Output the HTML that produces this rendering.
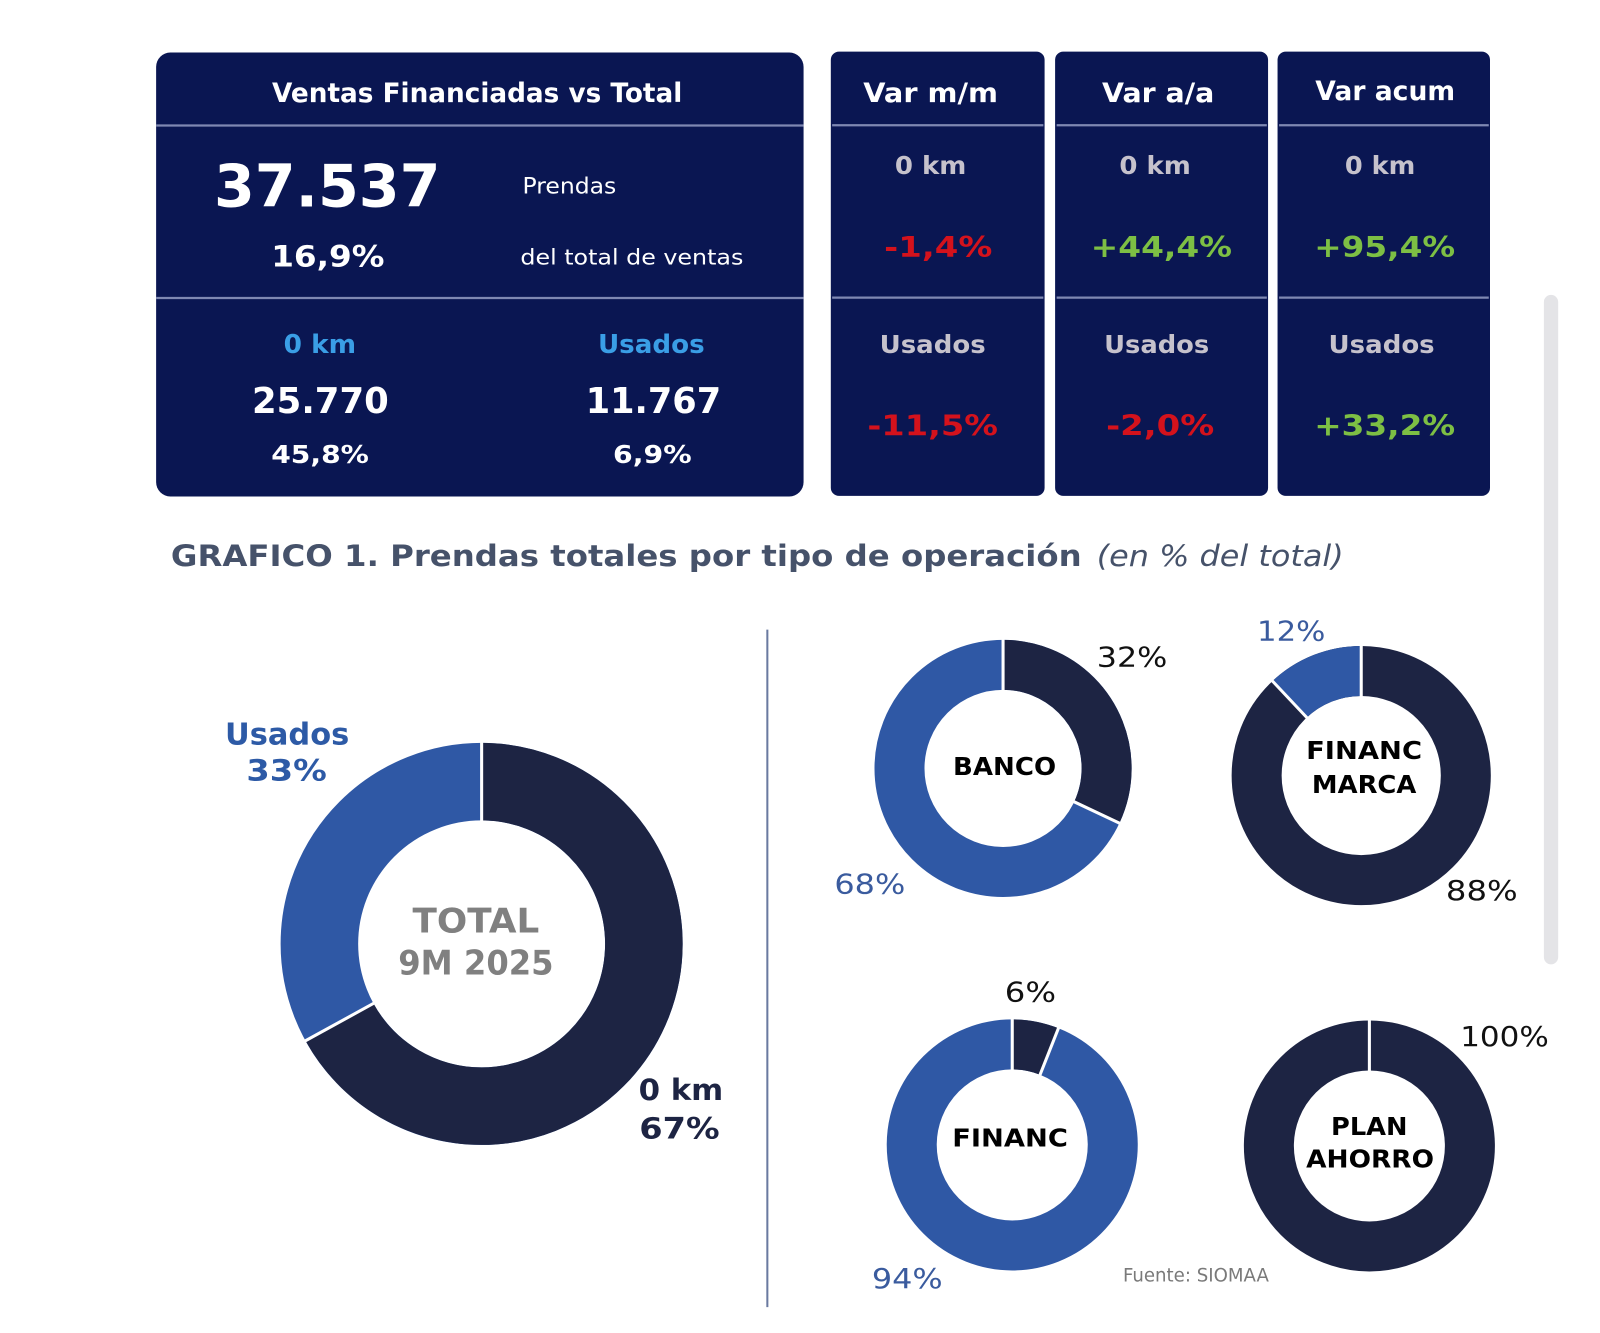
<!DOCTYPE html>
<html><head><meta charset="utf-8"><style>
html,body{margin:0;padding:0;background:#fff;}
svg{display:block;}
text{font-family:"DejaVu Sans","Liberation Sans",sans-serif;}
.b{font-weight:bold;}
</style></head><body>
<svg width="1600" height="1333" viewBox="0 0 1568 1306.3" preserveAspectRatio="none" xmlns="http://www.w3.org/2000/svg">
<rect x="0" y="0" width="1568" height="1306.3" fill="#ffffff"/>

<!-- Card 1 -->
<rect x="153" y="51.5" width="634.5" height="435" rx="14" fill="#0a1652"/>
<line x1="153" y1="123" x2="787.5" y2="123" stroke="#7f88b2" stroke-width="2.2"/>
<line x1="153" y1="292" x2="787.5" y2="292" stroke="#7f88b2" stroke-width="2.2"/>
<text class="b" x="266.6" y="100" font-size="26" fill="#fff" textLength="402" lengthAdjust="spacingAndGlyphs">Ventas Financiadas vs Total</text>
<text class="b" x="209.7" y="202.5" font-size="58" fill="#fff" textLength="222" lengthAdjust="spacingAndGlyphs">37.537</text>
<text x="512" y="189.5" font-size="21.5" fill="#fff" textLength="92" lengthAdjust="spacingAndGlyphs">Prendas</text>
<text class="b" x="265.8" y="261" font-size="29" fill="#fff" textLength="111" lengthAdjust="spacingAndGlyphs">16,9%</text>
<text x="510" y="259" font-size="21" fill="#fff" textLength="218.5" lengthAdjust="spacingAndGlyphs">del total de ventas</text>
<text class="b" x="278" y="346" font-size="25" fill="#3a9ee6" textLength="71" lengthAdjust="spacingAndGlyphs">0 km</text>
<text class="b" x="586" y="346" font-size="25" fill="#3a9ee6" textLength="104.6" lengthAdjust="spacingAndGlyphs">Usados</text>
<text class="b" x="247" y="404.5" font-size="35" fill="#fff" textLength="134" lengthAdjust="spacingAndGlyphs">25.770</text>
<text class="b" x="574" y="404.5" font-size="35" fill="#fff" textLength="132.7" lengthAdjust="spacingAndGlyphs">11.767</text>
<text class="b" x="265.8" y="453.5" font-size="24" fill="#fff" textLength="95.7" lengthAdjust="spacingAndGlyphs">45,8%</text>
<text class="b" x="600.8" y="453.5" font-size="24" fill="#fff" textLength="77" lengthAdjust="spacingAndGlyphs">6,9%</text>

<!-- Card 2 -->
<rect x="814.2" y="50.6" width="209.5" height="435.4" rx="8" fill="#0a1652"/>
<rect x="1034" y="50.6" width="208.7" height="435.4" rx="8" fill="#0a1652"/>
<rect x="1252" y="50.6" width="208.2" height="435.4" rx="8" fill="#0a1652"/>
<g stroke="#7f88b2" stroke-width="2.2">
<line x1="815.5" y1="122.8" x2="1022.5" y2="122.8"/>
<line x1="815.5" y1="291.7" x2="1022.5" y2="291.7"/>
<line x1="1035.5" y1="122.8" x2="1241.5" y2="122.8"/>
<line x1="1035.5" y1="291.7" x2="1241.5" y2="291.7"/>
<line x1="1253.5" y1="122.8" x2="1459" y2="122.8"/>
<line x1="1253.5" y1="291.7" x2="1459" y2="291.7"/>
</g>
<text class="b" x="846" y="100" font-size="26" fill="#fff" textLength="132" lengthAdjust="spacingAndGlyphs">Var m/m</text>
<text class="b" x="1080" y="100" font-size="26" fill="#fff" textLength="110" lengthAdjust="spacingAndGlyphs">Var a/a</text>
<text class="b" x="1289" y="98" font-size="26" fill="#fff" textLength="137" lengthAdjust="spacingAndGlyphs">Var acum</text>

<text class="b" x="877" y="170.5" font-size="24" fill="#c6c2cc" textLength="70" lengthAdjust="spacingAndGlyphs">0 km</text>
<text class="b" x="1097" y="170.5" font-size="24" fill="#c6c2cc" textLength="70" lengthAdjust="spacingAndGlyphs">0 km</text>
<text class="b" x="1318" y="170.5" font-size="24" fill="#c6c2cc" textLength="69" lengthAdjust="spacingAndGlyphs">0 km</text>

<text class="b" x="866.5" y="252" font-size="28" fill="#d4121c" textLength="106" lengthAdjust="spacingAndGlyphs">-1,4%</text>
<text class="b" x="1069" y="252" font-size="28" fill="#7dbf44" textLength="138.4" lengthAdjust="spacingAndGlyphs">+44,4%</text>
<text class="b" x="1288" y="252" font-size="28" fill="#7dbf44" textLength="138" lengthAdjust="spacingAndGlyphs">+95,4%</text>

<text class="b" x="862" y="346" font-size="24.5" fill="#c6c2cc" textLength="104" lengthAdjust="spacingAndGlyphs">Usados</text>
<text class="b" x="1082" y="346" font-size="24.5" fill="#c6c2cc" textLength="103" lengthAdjust="spacingAndGlyphs">Usados</text>
<text class="b" x="1302" y="346" font-size="24.5" fill="#c6c2cc" textLength="104" lengthAdjust="spacingAndGlyphs">Usados</text>

<text class="b" x="850" y="427" font-size="28" fill="#d4121c" textLength="128" lengthAdjust="spacingAndGlyphs">-11,5%</text>
<text class="b" x="1084" y="427" font-size="28" fill="#d4121c" textLength="106" lengthAdjust="spacingAndGlyphs">-2,0%</text>
<text class="b" x="1288" y="427" font-size="28" fill="#7dbf44" textLength="138" lengthAdjust="spacingAndGlyphs">+33,2%</text>

<!-- Title -->
<text class="b" x="167.5" y="554.5" font-size="29" fill="#46526a" textLength="892.5" lengthAdjust="spacingAndGlyphs">GRAFICO 1. Prendas totales por tipo de operación</text>
<text x="1074.8" y="554.5" font-size="29" font-style="italic" fill="#46526a" textLength="242" lengthAdjust="spacingAndGlyphs">(en % del total)</text>

<!-- Divider -->
<line x1="752" y1="617" x2="752" y2="1281" stroke="#6a7aa0" stroke-width="2"/>

<!-- Scrollbar -->
<rect x="1513" y="289" width="14" height="656" rx="7" fill="#e4e4e7"/>

<!-- Big donut -->
<circle cx="472" cy="925" r="159" fill="none" stroke="#2f58a5" stroke-width="76"/>
<circle cx="472" cy="925" r="159" fill="none" stroke="#1d2443" stroke-width="76" stroke-dasharray="669.35 999.03" transform="rotate(-90 472 925)"/>
<g stroke="#fff" stroke-width="3">
<line x1="472" y1="726" x2="472" y2="806"/>
<line x1="368.6" y1="981.9" x2="296.7" y2="1021.4"/>
</g>
<text class="b" x="404.3" y="914" font-size="33" fill="#808080" textLength="124.2" lengthAdjust="spacingAndGlyphs">TOTAL</text>
<text class="b" x="390.3" y="955" font-size="33" fill="#808080" textLength="152.2" lengthAdjust="spacingAndGlyphs">9M 2025</text>
<text class="b" x="220.5" y="729.4" font-size="30" fill="#2d5aa6" textLength="121.8" lengthAdjust="spacingAndGlyphs">Usados</text>
<text class="b" x="241.5" y="765" font-size="29" fill="#2d5aa6" textLength="78.8" lengthAdjust="spacingAndGlyphs">33%</text>
<text class="b" x="625.8" y="1078" font-size="29" fill="#1d2443" textLength="83" lengthAdjust="spacingAndGlyphs">0 km</text>
<text class="b" x="626.5" y="1115.6" font-size="29" fill="#1d2443" textLength="78.7" lengthAdjust="spacingAndGlyphs">67%</text>

<!-- BANCO -->
<circle cx="983" cy="753" r="101.5" fill="none" stroke="#2f58a5" stroke-width="49"/>
<circle cx="983" cy="753" r="101.5" fill="none" stroke="#1d2443" stroke-width="49" stroke-dasharray="204.08 637.74" transform="rotate(-90 983 753)"/>
<g stroke="#fff" stroke-width="3">
<line x1="983" y1="625" x2="983" y2="678"/>
<line x1="1050.9" y1="784.9" x2="1098.8" y2="807.5"/>
</g>
<text class="b" x="934" y="759.5" font-size="24.5" fill="#000" textLength="101" lengthAdjust="spacingAndGlyphs">BANCO</text>
<text x="1074.8" y="653.3" font-size="27" fill="#111" textLength="69.2" lengthAdjust="spacingAndGlyphs">32%</text>
<text x="817.7" y="875.5" font-size="27" fill="#3a5b9e" textLength="69.5" lengthAdjust="spacingAndGlyphs">68%</text>

<!-- FINANC MARCA -->
<circle cx="1334" cy="760" r="102.5" fill="none" stroke="#1d2443" stroke-width="49"/>
<circle cx="1334" cy="760" r="102.5" fill="none" stroke="#2f58a5" stroke-width="49" stroke-dasharray="77.28 644.03" transform="rotate(226.8 1334 760)"/>
<g stroke="#fff" stroke-width="3">
<line x1="1334" y1="631" x2="1334" y2="684"/>
<line x1="1282.0" y1="704.6" x2="1245.7" y2="666.0"/>
</g>
<text class="b" x="1280" y="744" font-size="24.5" fill="#000" textLength="113.6" lengthAdjust="spacingAndGlyphs">FINANC</text>
<text class="b" x="1285.7" y="777" font-size="24.5" fill="#000" textLength="102.3" lengthAdjust="spacingAndGlyphs">MARCA</text>
<text x="1231.9" y="627.8" font-size="27" fill="#3a5b9e" textLength="67" lengthAdjust="spacingAndGlyphs">12%</text>
<text x="1417" y="882" font-size="27" fill="#111" textLength="70.3" lengthAdjust="spacingAndGlyphs">88%</text>

<!-- FINANC -->
<circle cx="992" cy="1122" r="98.5" fill="none" stroke="#2f58a5" stroke-width="49"/>
<circle cx="992" cy="1122" r="98.5" fill="none" stroke="#1d2443" stroke-width="49" stroke-dasharray="37.13 618.9" transform="rotate(-90 992 1122)"/>
<g stroke="#fff" stroke-width="3">
<line x1="992" y1="997" x2="992" y2="1050"/>
<line x1="1018.5" y1="1055.1" x2="1038.0" y2="1005.8"/>
</g>
<text class="b" x="933.2" y="1123.7" font-size="24.5" fill="#000" textLength="113.4" lengthAdjust="spacingAndGlyphs">FINANC</text>
<text x="984.7" y="981.6" font-size="27" fill="#111" textLength="50.2" lengthAdjust="spacingAndGlyphs">6%</text>
<text x="854.4" y="1262" font-size="27" fill="#3a5b9e" textLength="69.4" lengthAdjust="spacingAndGlyphs">94%</text>

<!-- PLAN AHORRO -->
<circle cx="1342" cy="1123" r="98.5" fill="none" stroke="#1d2443" stroke-width="49"/>
<line x1="1342" y1="998" x2="1342" y2="1051" stroke="#fff" stroke-width="3"/>
<text class="b" x="1304.4" y="1112.3" font-size="24.5" fill="#000" textLength="75" lengthAdjust="spacingAndGlyphs">PLAN</text>
<text class="b" x="1280" y="1144" font-size="24.5" fill="#000" textLength="125.3" lengthAdjust="spacingAndGlyphs">AHORRO</text>
<text x="1431" y="1025" font-size="27" fill="#111" textLength="86.8" lengthAdjust="spacingAndGlyphs">100%</text>

<text x="1100.5" y="1256" font-size="18" fill="#7a7a7a" textLength="143" lengthAdjust="spacingAndGlyphs">Fuente: SIOMAA</text>
</svg>
</body></html>
